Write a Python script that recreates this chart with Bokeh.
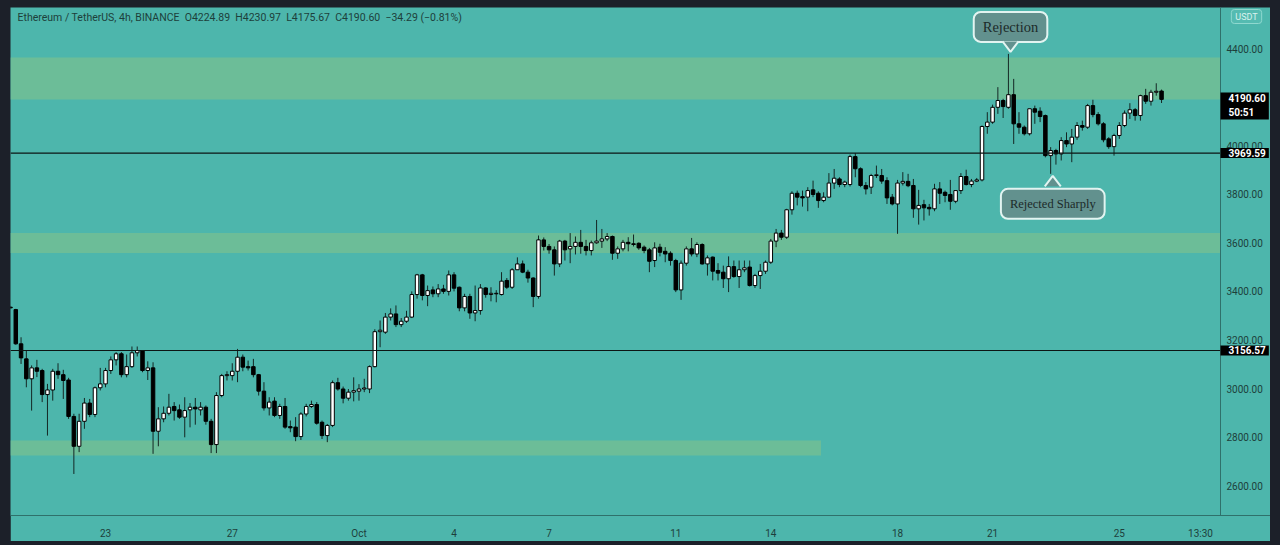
import pandas as pd
from bokeh.plotting import figure
from bokeh.models import (ColumnDataSource, BoxAnnotation, Span, Label, FixedTicker,
                          NumeralTickFormatter, Range1d)
from bokeh.embed import file_html
from bokeh.resources import INLINE

# ---------------- data: ETH/USDT 4h candles, 2021-09-20 00:00 .. 2021-10-26 12:00 ----------------
start_time = "2021-09-20 00:00"

opens = [3335,3325,3184,3122,3040,3085,3074,2975,2994,3071,
         3057,3035,2885,2762,2865,2940,2893,3003,3019,3074,
         3118,3143,3057,3090,3147,3154,3074,3085,2824,2875,
         2898,2926,2912,2882,2912,2923,2912,2923,2865,2769,
         2971,3053,3053,3071,3129,3090,3090,3057,2989,2920,
         2948,2889,2926,2843,2841,2802,2895,2926,2934,2861,
         2806,2848,3024,2998,2960,2985,2989,2998,2998,3090,
         3234,3232,3294,3307,3263,3277,3294,3387,3468,3383,
         3406,3390,3410,3400,3468,3417,3332,3379,3311,3321,
         3414,3387,3390,3387,3445,3417,3489,3513,3479,3455,
         3379,3612,3585,3571,3513,3607,3575,3585,3602,3585,
         3568,3600,3607,3616,3626,3557,3575,3602,3596,3598,
         3582,3571,3527,3582,3565,3557,3527,3406,3516,3575,
         3554,3593,3513,3541,3486,3479,3452,3502,3461,3489,
         3500,3424,3465,3483,3520,3607,3640,3623,3736,3804,
         3790,3788,3818,3804,3774,3788,3846,3863,3840,3840,
         3955,3905,3836,3829,3877,3877,3856,3788,3760,3846,
         3853,3836,3740,3757,3746,3740,3822,3808,3799,3771,
         3815,3873,3840,3854,3859,4079,4097,4158,4186,4158,
         4210,4090,4076,4049,4152,4142,4124,3959,3980,3966,
         4021,4007,4035,4083,4076,4165,4128,4090,4028,3996,
         4042,4083,4134,4148,4124,4206,4183,4220,4224.89]

highs = [3340,3328,3211,3156,3095,3118,3081,3019,3081,3104,
         3077,3044,2896,2896,2961,2957,3008,3085,3085,3132,
         3150,3150,3140,3173,3173,3156,3112,3108,2923,2926,
         2978,2944,2934,2964,2940,2961,2944,2930,2875,2985,
         3060,3071,3104,3163,3140,3115,3122,3060,3026,2964,
         2964,2937,2961,2868,2882,2902,2937,2950,2944,2868,
         2854,3033,3044,3008,2998,3046,3018,3040,3095,3244,
         3280,3311,3330,3342,3290,3320,3400,3472,3472,3424,
         3420,3430,3427,3486,3479,3420,3390,3390,3424,3430,
         3417,3417,3405,3479,3455,3496,3540,3527,3489,3458,
         3630,3622,3595,3585,3612,3612,3640,3626,3653,3612,
         3609,3694,3657,3640,3630,3585,3612,3623,3634,3602,
         3589,3579,3602,3596,3582,3565,3534,3527,3585,3620,
         3602,3598,3548,3544,3516,3506,3544,3527,3527,3527,
         3527,3472,3513,3527,3616,3657,3653,3740,3812,3815,
         3815,3829,3856,3812,3808,3887,3904,3870,3856,3963,
         3969,3911,3850,3884,3918,3904,3870,3801,3859,3891,
         3884,3863,3818,3777,3760,3843,3850,3815,3859,3815,
         3887,3901,3863,3867,4083,4138,4169,4241,4193,4378,
         4275,4138,4083,4152,4165,4158,4128,3994,3987,4035,
         4055,4069,4097,4103,4172,4189,4138,4097,4035,4049,
         4097,4145,4175,4155,4210,4234,4230,4257,4230.97]

lows = [3328,3180,3101,3005,2909,3047,2944,2806,2950,3040,
        2957,2875,2648,2738,2834,2882,2882,2992,3005,3060,
        3095,3046,3046,3085,3132,3067,3035,2731,2762,2861,
        2889,2868,2875,2799,2840,2851,2889,2851,2734,2734,
        2964,3033,3033,3026,3071,3074,3046,2971,2909,2889,
        2882,2875,2834,2820,2783,2788,2885,2920,2851,2792,
        2779,2841,2991,2939,2950,2947,2950,2985,2981,3087,
        3170,3225,3280,3253,3253,3270,3290,3370,3363,3339,
        3376,3376,3390,3383,3400,3318,3318,3287,3277,3304,
        3374,3359,3355,3383,3410,3410,3489,3475,3436,3335,
        3370,3568,3555,3465,3500,3527,3516,3552,3555,3548,
        3548,3596,3579,3607,3530,3534,3565,3565,3585,3571,
        3557,3479,3500,3544,3520,3506,3397,3365,3506,3544,
        3541,3510,3465,3445,3445,3414,3397,3456,3414,3479,
        3420,3414,3410,3472,3513,3582,3612,3616,3716,3754,
        3749,3730,3788,3744,3767,3785,3822,3829,3829,3832,
        3870,3829,3799,3801,3867,3843,3760,3754,3637,3836,
        3829,3703,3675,3692,3712,3730,3760,3767,3736,3763,
        3801,3836,3829,3850,3853,4049,4090,4131,4114,4152,
        4007,4049,4042,4042,4090,4097,3952,3884,3922,3939,
        3994,3932,4024,4062,4069,4117,4083,4014,3987,3959,
        4028,4076,4110,4103,4103,4172,4165,4206,4175.67]

closes = [3332,3184,3126,3040,3085,3071,2975,2994,3071,3057,
          3033,2885,2762,2865,2940,2893,3003,3019,3074,3118,
          3143,3057,3090,3147,3156,3074,3085,2824,2875,2898,
          2923,2909,2882,2909,2923,2916,2923,2865,2769,2971,
          3053,3057,3071,3129,3088,3085,3057,2989,2920,2944,
          2889,2926,2841,2838,2802,2895,2926,2934,2857,2806,
          2848,3024,2998,2960,2985,2991,2998,3002,3090,3234,
          3240,3294,3307,3263,3277,3294,3387,3468,3383,3403,
          3390,3410,3400,3468,3413,3332,3379,3311,3321,3414,
          3387,3392,3392,3442,3417,3489,3513,3479,3455,3379,
          3612,3585,3571,3513,3607,3571,3585,3602,3585,3568,
          3600,3607,3616,3626,3557,3575,3602,3596,3593,3579,
          3568,3524,3579,3561,3554,3527,3406,3516,3575,3554,
          3593,3513,3538,3483,3475,3452,3502,3461,3489,3497,
          3424,3465,3483,3520,3607,3640,3623,3736,3804,3788,
          3785,3815,3799,3774,3788,3846,3866,3840,3850,3955,
          3905,3836,3822,3877,3880,3854,3785,3760,3846,3853,
          3835,3740,3754,3744,3740,3822,3804,3795,3771,3815,
          3873,3840,3854,3859,4079,4097,4158,4186,4161,4210,
          4090,4076,4049,4152,4138,4120,3959,3980,3966,4021,
          4007,4035,4083,4076,4165,4128,4090,4024,3996,4042,
          4083,4134,4148,4124,4206,4183,4220,4224,4190.60]

# horizontal levels and zones (price values)
support_lines = [3969.59, 3156.57]
zones = [(4190, 4363, None), (3558, 3640, None), (2724, 2786, "2021-10-15 14:00")]

price_ticks = [2600, 2800, 3000, 3200, 3400, 3600, 3800, 4000, 4200, 4400]
time_tick_dates = ["2021-09-23", "2021-09-27", "2021-10-01", "2021-10-04", "2021-10-07",
                   "2021-10-11", "2021-10-14", "2021-10-18", "2021-10-21", "2021-10-25",
                   "2021-10-27 13:30"]
time_tick_labels = ["23", "27", "Oct", "4", "7", "11", "14", "18", "21", "25", "13:30"]
countdown = "50:51"

# ---------------- helpers ----------------
t0 = pd.Timestamp(start_time)
step = pd.Timedelta("4h")

def to_idx(d):
    v = (pd.Timestamp(d) - t0) / step
    return int(v) if float(v).is_integer() else float(v)

n = len(closes)
xs = list(range(n))
up = [c >= o for o, c in zip(opens, closes)]
bt = [max(o, c) for o, c in zip(opens, closes)]
bb = [min(o, c) for o, c in zip(opens, closes)]

src_up = ColumnDataSource(dict(x=[x for x, u in zip(xs, up) if u],
                               top=[t for t, u in zip(bt, up) if u],
                               bottom=[b for b, u in zip(bb, up) if u]))
src_dn = ColumnDataSource(dict(x=[x for x, u in zip(xs, up) if not u],
                               top=[t for t, u in zip(bt, up) if not u],
                               bottom=[b for b, u in zip(bb, up) if not u]))
src_w = ColumnDataSource(dict(x=xs, h=highs, l=lows))

BG = "#4db6ac"
ZONE = "#6cbd98"
TXT = "#1d3f3b"
SEP = "#2f716b"
FONT = "Roboto"

PX = 5.28                 # pixels per candle
CHART_W = 1210            # candle pane width (px)
FULL_W = 1260             # pane + price scale
X_SEP = CHART_W / PX      # index where price scale starts

p = figure(frame_width=FULL_W, frame_height=508, output_backend="svg", toolbar_location=None,
           x_range=Range1d(0, FULL_W / PX), y_range=Range1d(2477, 4569),
           y_axis_location="right", min_border_left=0, min_border_top=0,
           min_border_right=0, min_border_bottom=23)
p.background_fill_color = BG
p.border_fill_color = BG
p.outline_line_color = None
p.grid.visible = False

# zones
for lo, hi, end in zones:
    right = to_idx(end) if end is not None else X_SEP
    p.add_layout(BoxAnnotation(bottom=lo, top=hi, right=right, fill_color=ZONE, fill_alpha=1.0,
                               line_color=None, level="underlay"))

# horizontal levels (stop at price scale)
for lv in support_lines:
    p.add_layout(BoxAnnotation(bottom=lv, top=lv, right=X_SEP, fill_color=None,
                               line_color="#0c1614", line_alpha=1.0, line_width=1.2))

# price scale separator
p.add_layout(Span(location=X_SEP, dimension="height", line_color=SEP, line_width=1))

# candles
p.segment(x0="x", y0="h", x1="x", y1="l", source=src_w, line_color="#142724", line_width=1)
p.vbar(x="x", top="top", bottom="bottom", width=0.66, source=src_up,
       fill_color="white", line_color="black", line_width=1)
p.vbar(x="x", top="top", bottom="bottom", width=0.66, source=src_dn,
       fill_color="black", line_color="black", line_width=1)

# axes
ya = p.yaxis[0]
ya.ticker = FixedTicker(ticks=price_ticks)
ya.formatter = NumeralTickFormatter(format="0.00")
ya.major_label_standoff = -(FULL_W - CHART_W)
ya.axis_line_color = None
xa = p.xaxis[0]
tick_idx = [to_idx(d) for d in time_tick_dates]
xa.ticker = FixedTicker(ticks=tick_idx)
xa.major_label_overrides = {k: v for k, v in zip(tick_idx, time_tick_labels)}
xa.axis_line_color = SEP
xa.major_label_standoff = 6
for ax in (xa, ya):
    ax.major_tick_line_color = None
    ax.minor_tick_line_color = None
    ax.major_label_text_color = TXT
    ax.major_label_text_font = FONT
    ax.major_label_text_font_size = "10px"

# header
last_o, last_h, last_l, last_c = opens[-1], highs[-1], lows[-1], closes[-1]
chg = last_c - last_o
pct = chg / last_o * 100
sp = "\u00a0\u00a0"
header = (f"Ethereum / TetherUS, 4h, BINANCE{sp}O{last_o:.2f}{sp}H{last_h:.2f}{sp}L{last_l:.2f}{sp}"
          f"C{last_c:.2f}{sp}\u2212{abs(chg):.2f} (\u2212{abs(pct):.2f}%)")
p.add_layout(Label(x=7, y=498, x_units="screen", y_units="screen", text=header,
                   text_font=FONT, text_font_size="10.5px", text_color=TXT,
                   text_baseline="middle"))

# USDT badge
p.add_layout(Label(x=(CHART_W + 26) / PX, y=499, y_units="screen", text="USDT",
                   text_font=FONT, text_font_size="9px", text_color="#d9f2ee",
                   text_align="center", text_baseline="middle",
                   background_fill_color="#55bbb1", border_line_color="#8fd8cf",
                   border_line_width=1, border_radius=3,
                   padding=dict(left=4, right=4, top=2, bottom=2)))

# price tags on the price scale
p.add_layout(Label(x=X_SEP, y=last_c,
                   text=f"{last_c:.2f}\n{countdown}", text_font=FONT,
                   text_font_size="10px", text_font_style="bold", text_color="white",
                   text_baseline="top", y_offset=7, text_line_height=1.2,
                   background_fill_color="black",
                   padding=dict(left=8, right=3, top=1, bottom=2)))
for lv in support_lines:
    p.add_layout(Label(x=X_SEP, y=lv, text=f"{lv:.2f}",
                       text_font=FONT, text_font_size="10px", text_font_style="bold",
                       text_color="white", text_baseline="middle",
                       background_fill_color="black",
                       padding=dict(left=8, right=3, top=1, bottom=1)))

# callouts
CALL_FILL = "#62918e"
CALL_LINE = "#e2f4f1"
ppx = (4569 - 2477) / 508   # price per pixel
ipx = 1 / PX                # index per pixel

i_top = max(range(n), key=lambda i: highs[i])
i_rej = 197
callouts = [("Rejection", i_top, highs[i_top], +1, 27, "14.5px", 7),
            ("Rejected Sharply", i_rej, lows[i_rej], -1, 30, "12.5px", 8)]
for text, ix, py, sgn, off, fs, pv in callouts:
    cx = ix + 0.4
    p.add_layout(Label(x=cx, y=py, text=text, y_offset=sgn * off,
                       text_font="Liberation Serif", text_font_size=fs,
                       text_color="#1c2a29", text_align="center", text_baseline="middle",
                       background_fill_color=CALL_FILL, border_line_color=CALL_LINE,
                       border_line_width=2, border_radius=7,
                       padding=dict(left=9, right=9, top=pv, bottom=pv)))
    tip = py + sgn * 2 * ppx
    base = py + sgn * 12.5 * ppx
    hw = 8 * ipx
    p.patch([cx - hw, cx, cx + hw], [base, tip, base], fill_color=CALL_FILL,
            line_color=None, level="overlay")
    p.line([cx - hw, cx, cx + hw], [base, tip, base], line_color=CALL_LINE,
           line_width=2, level="overlay")

html = file_html(p, INLINE)
html = html.replace("</head>",
                    "<style>body{background:#1c2029;padding:7px 0 0 10px !important;}</style></head>", 1)
open("out.html", "w").write(html)
